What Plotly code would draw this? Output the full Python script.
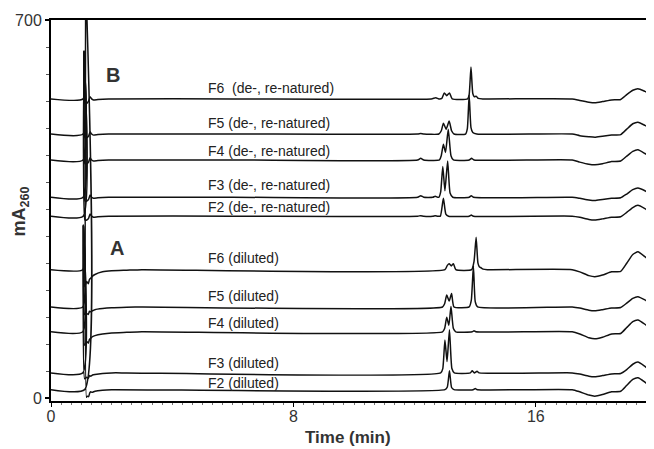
import plotly.graph_objects as go

# ---- trace labels and baseline offsets (mA260) ----
labels = ["F6  (de-, re-natured)", "F5 (de-, re-natured)", "F4 (de-, re-natured)",
          "F3 (de-, re-natured)", "F2 (de-, re-natured)",
          "F6 (diluted)", "F5 (diluted)", "F4 (diluted)", "F3 (diluted)", "F2 (diluted)"]
offsets = [554, 489, 441, 372, 337, 238, 169, 123, 47, 16]
label_y = [574, 510, 458, 395, 354, 260, 189, 139, 65, 28]
label_x = 5.1

# ---- signals (time in min, signal relative to baseline in mA260) ----
t_B_F6 = [0, 1.06, 1.09, 1.12, 1.18, 1.24, 1.29, 1.34, 1.40, 1.55, 1.9, 6.0, 12.55, 12.7, 12.8, 12.9, 12.98, 13.06, 13.15, 13.24,
          13.75, 13.8, 13.86, 13.92, 13.97, 14.03, 14.1, 14.25, 17.2, 17.45, 17.75, 17.95, 18.2, 18.5, 18.8, 19.0, 19.2, 19.37, 19.6, 19.9]
v_B_F6 = [0, 0, 87, -8, -8, -4, 4, 0, -2, -1, 0, 0, 0, 2, 0, 1, 11, 6, 11, 0,
          0, 8, 59, 10, 4, 5, 1, 0, 0, -3, -6, -7, -5, -2, -1, 8, 16, 19, 14, 6]

t_B_F5 = [0, 1.06, 1.09, 1.12, 1.18, 1.24, 1.29, 1.34, 1.40, 1.55, 1.9, 6.0, 12.1, 12.2, 12.3, 12.8, 12.88, 12.95, 13.04, 13.14, 13.22, 13.3,
          13.68, 13.74, 13.8, 13.86, 13.92, 14.05, 17.2, 17.45, 17.75, 17.95, 18.2, 18.5, 18.8, 19.0, 19.2, 19.37, 19.6, 19.9]
v_B_F5 = [0, 0, 150, -7, -7, -4, 4, 0, -2, -1, 0, 0, 0, 1, 0, 0, 6, 20, 9, 24, 6, 0,
          0, 10, 72, 12, 3, 0, 0, -3, -5, -6, -4, -2, -1, 9, 19, 22, 16, 6]

t_B_F4 = [0, 1.06, 1.09, 1.12, 1.18, 1.24, 1.29, 1.34, 1.40, 1.55, 1.9, 6.0, 12.1, 12.2, 12.3, 12.82, 12.88, 12.95, 13.02, 13.11, 13.2, 13.28,
          13.8, 13.88, 13.96, 17.2, 17.45, 17.75, 17.95, 18.2, 18.5, 18.8, 19.0, 19.2, 19.37, 19.6, 19.9]
v_B_F4 = [0, 0, 200, -7, -7, -4, 4, 0, -2, -1, 0, 0, 0, 3, 0, 0, 8, 29, 14, 57, 8, 0,
          0, 3, 0, 0, -4, -8, -9, -7, -3, -2, 7, 16, 19, 12, 1]

t_B_F3 = [0, 1.06, 1.09, 1.12, 1.18, 1.24, 1.29, 1.34, 1.40, 1.55, 1.9, 6.0, 12.1, 12.2, 12.3, 12.6, 12.68, 12.76, 12.8, 12.86, 12.93, 13.0, 13.09, 13.17, 13.26,
          13.8, 13.87, 13.94, 17.2, 17.45, 17.75, 17.95, 18.2, 18.5, 18.8, 19.0, 19.2, 19.37, 19.6, 19.9]
v_B_F3 = [0, 0, 270, -7, -7, -4, 4, 0, -2, -1, 0, 0, 0, 3, 0, 0, 2, 0, 0, 10, 57, 12, 67, 8, 0,
          0, 3, 0, 0, -2, -5, -6, -4, -2, -1, 6, 14, 17, 12, 2]

t_B_F2 = [0, 1.06, 1.09, 1.12, 1.18, 1.24, 1.29, 1.34, 1.40, 1.55, 1.9, 6.0, 12.1, 12.2, 12.3, 12.6, 12.68, 12.76, 12.85, 12.95, 13.03, 13.12,
          13.8, 13.87, 13.94, 17.2, 17.45, 17.75, 17.95, 18.2, 18.5, 18.8, 19.0, 19.2, 19.37, 19.6, 19.9]
v_B_F2 = [0, 0, 305, -7, -7, -4, 4, 0, -2, -1, 0, 0, 0, 1, 0, 0, 1, 0, 0, 33, 4, 0,
          0, 2, 0, 0, -2, -6, -7, -5, -2, -1, 7, 16, 20, 14, 3]

t_A_F6 = [0, 1.05, 1.07, 1.11, 1.18, 1.23, 1.27, 1.31, 1.37, 1.45, 1.7, 2.0, 2.5, 3.0, 13.0, 13.08, 13.14, 13.21, 13.28, 13.36,
          13.88, 13.96, 14.03, 14.09, 14.14, 14.18, 14.26, 14.4, 17.2, 17.45, 17.75, 17.95, 18.2, 18.5, 18.8, 19.0, 19.2, 19.37, 19.6, 19.9]
v_A_F6 = [0, 0, 80, -31, -22, -26, -18, -16, -12, -9, -4, -2, -1, 0, 0, 8, 11, 7, 11, 0,
          0, 15, 60, 12, 5, 4, 1, 0, 0, -4, -11, -13, -10, -4, -3, 12, 28, 33, 24, 9]

t_A_F5 = [0, 1.05, 1.07, 1.11, 1.18, 1.23, 1.27, 1.31, 1.37, 1.45, 1.7, 2.0, 2.5, 3.0, 12.92, 12.99, 13.06, 13.14, 13.22, 13.3,
          13.8, 13.87, 13.94, 14.0, 14.08, 17.2, 17.45, 17.75, 17.95, 18.2, 18.5, 18.8, 19.0, 19.2, 19.37, 19.6, 19.9]
v_A_F5 = [0, 0, 150, -14, -12, -14, -8, -9, -7, -5, -3, -1.5, -0.5, 0, 0, 6, 22, 11, 25, 0,
          0, 12, 76, 10, 0, 0, -2, -6, -7, -5, -2, -1, 7, 16, 19, 13, 2]

t_A_F4 = [0, 1.05, 1.07, 1.11, 1.18, 1.23, 1.27, 1.31, 1.37, 1.45, 1.7, 2.0, 2.5, 3.0, 12.92, 12.99, 13.06, 13.13, 13.2, 13.28, 13.36,
          13.9, 13.96, 14.02, 17.2, 17.45, 17.75, 17.95, 18.2, 18.5, 18.8, 19.0, 19.2, 19.37, 19.6, 19.9]
v_A_F4 = [0, 0, 197, -25, -18, -21, -14, -12, -9, -7, -4, -2, -1, 0, 0, 6, 27, 12, 47, 6, 0,
          0, 2, 0, 0, -4, -11, -13, -10, -4, -3, 8, 19, 22, 14, 0]

t_A_F3 = [0, 1.05, 1.07, 1.11, 1.18, 1.23, 1.27, 1.31, 1.37, 1.45, 1.7, 2.0, 2.5, 12.86, 12.93, 13.0, 13.07, 13.15, 13.23, 13.31,
          13.84, 13.9, 13.97, 14.06, 14.13, 17.2, 17.45, 17.75, 17.95, 18.2, 18.5, 18.8, 19.0, 19.2, 19.37, 19.6, 19.9]
v_A_F3 = [0, 0, 273, -11, -8, -10, -5, -6, -4, -3, -1, 0, 0, 0, 8, 61, 21, 80, 8, 0,
          0, 4, 0, 3, 0, 0, -2, -6, -7, -5, -2, -1, 6, 16, 20, 12, -1]

t_A_F2 = [0, 1.11, 1.145, 1.17, 1.2, 1.24, 1.28, 1.31, 1.36, 1.45, 1.7, 2.0, 13.0, 13.08, 13.15, 13.22, 13.3,
          13.93, 14.0, 14.07, 17.2, 17.45, 17.75, 17.95, 18.2, 18.5, 18.8, 19.0, 19.2, 19.37, 19.6, 19.9]
v_A_F2 = [0, 0, 760, -14, -12, -13, -6, -4, -5, -3, -1, 0, 0, 5, 35, 4, 0,
          0, 2, 0, 0, -4, -10, -12, -9, -4, -3, 8, 19, 22, 14, 0]

times = [t_B_F6, t_B_F5, t_B_F4, t_B_F3, t_B_F2, t_A_F6, t_A_F5, t_A_F4, t_A_F3, t_A_F2]
signals = [v_B_F6, v_B_F5, v_B_F4, v_B_F3, v_B_F2, v_A_F6, v_A_F5, v_A_F4, v_A_F3, v_A_F2]

x_ticks = [0, 8, 16]
y_ticks = [0, 700]

FONT = "Arial, Liberation Sans, sans-serif"

fig = go.Figure()
for name, t, v, off in zip(labels, times, signals, offsets):
    fig.add_trace(go.Scatter(x=t, y=[off + s for s in v], mode="lines", name=name,
                             line=dict(color="#111111", width=1.5, shape="spline", smoothing=0.5),
                             hoverinfo="skip"))

for name, ly in zip(labels, label_y):
    fig.add_annotation(x=label_x, y=ly, text=name, showarrow=False, xanchor="left", yanchor="middle",
                       font=dict(family=FONT, size=14, color="#222222"))

fig.add_annotation(x=2.03, y=598, text="<b>B</b>", showarrow=False, xanchor="center", yanchor="middle",
                   font=dict(family=FONT, size=20, color="#333333"))
fig.add_annotation(x=2.19, y=278, text="<b>A</b>", showarrow=False, xanchor="center", yanchor="middle",
                   font=dict(family=FONT, size=20, color="#333333"))

fig.add_annotation(xref="paper", yref="paper", x=0.493, y=-0.095, text="<b>Time (min)</b>", showarrow=False,
                   xanchor="center", yanchor="middle", font=dict(family=FONT, size=17, color="#333333"))
fig.add_annotation(xref="paper", yref="paper", x=-0.05, y=0.497, text="<b>mA<sub>260</sub></b>", showarrow=False,
                   textangle=-90, xanchor="center", yanchor="middle", font=dict(family=FONT, size=18, color="#333333"))

# page body adds an 8px margin, so the figure is shifted by 8px right and down
fig.update_layout(
    width=646, height=441,
    margin=dict(l=43, r=0, t=12, b=48),
    paper_bgcolor="white", plot_bgcolor="white",
    showlegend=False,
    font=dict(family=FONT, color="#333333"),
)
fig.update_xaxes(range=[0, 19.9], tickmode="array", tickvals=x_ticks, ticktext=[str(v) for v in x_ticks],
                 showgrid=False, zeroline=False, showline=True, linecolor="black", linewidth=2, mirror=True,
                 ticks="outside", ticklen=4, tickwidth=1, tickcolor="black", ticklabelstandoff=-4,
                 tickfont=dict(family=FONT, size=16, color="#333333"),
                 minor=dict(tickmode="linear", tick0=0, dtick=1/3, ticks="outside", ticklen=2,
                            tickcolor="#777777", tickwidth=1))
fig.update_yaxes(range=[-5, 700], tickmode="array", tickvals=y_ticks, ticktext=[str(v) for v in y_ticks],
                 showgrid=False, zeroline=False, showline=True, linecolor="black", linewidth=2, mirror=False,
                 ticks="outside", ticklen=4, tickwidth=2, tickcolor="black",
                 tickfont=dict(family=FONT, size=16, color="#333333"),
                 minor=dict(tickmode="linear", tick0=0, dtick=50, ticks="outside", ticklen=3,
                            tickcolor="#555555", tickwidth=1))

fig.write_html("out.html")
